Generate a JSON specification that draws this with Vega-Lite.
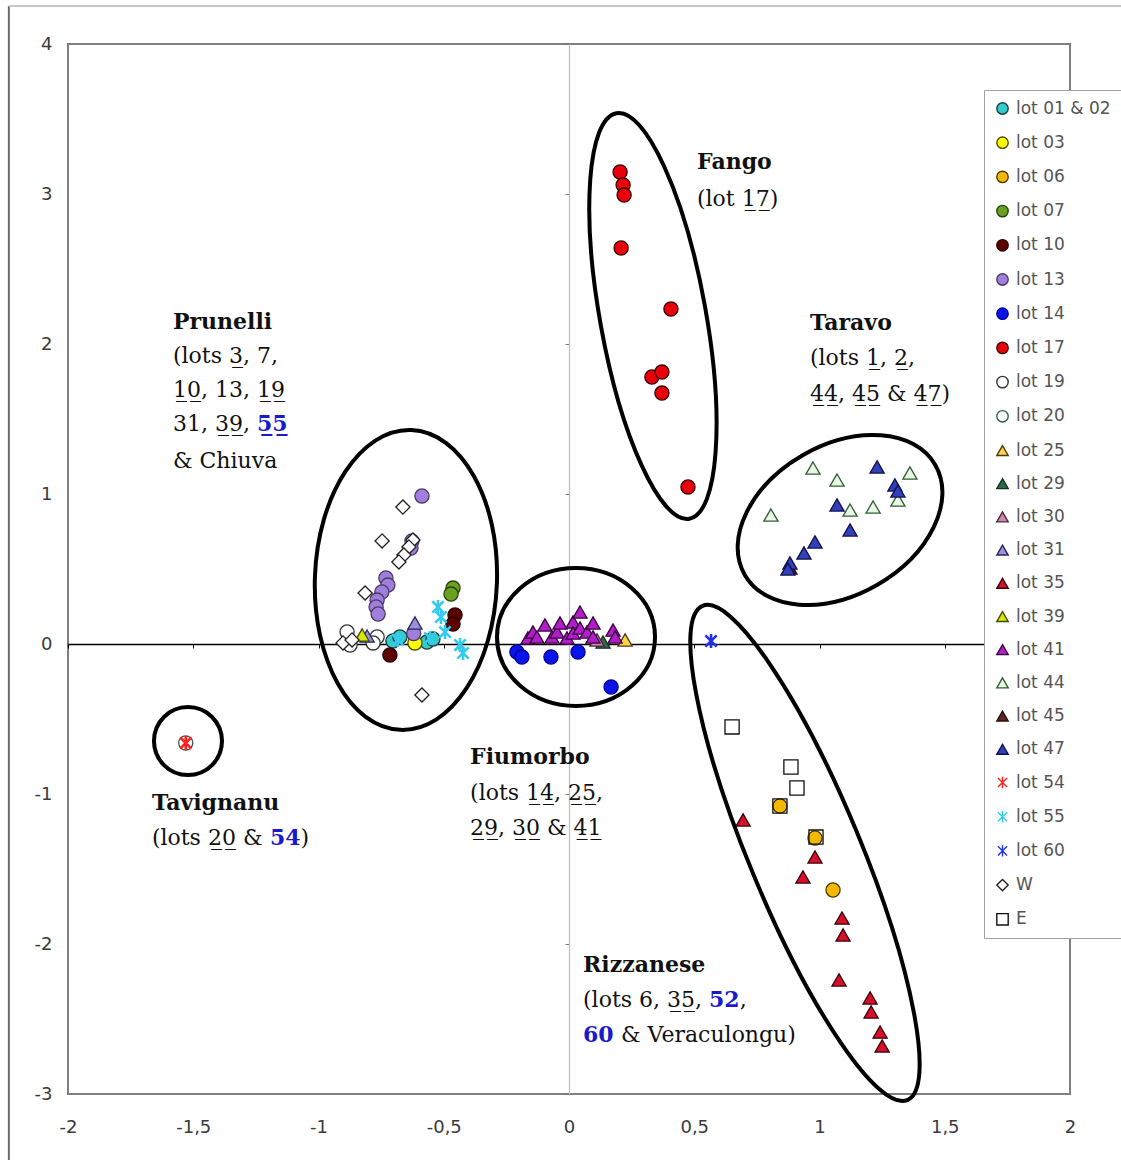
{
  "$schema": "https://vega.github.io/schema/vega-lite/v6.json",
  "width": 1002,
  "height": 1050,
  "autosize": {"type": "none"},
  "padding": {"left": 68, "top": 44, "right": 51, "bottom": 66},
  "background": "white",
  "config": {
    "view": {"stroke": "#7f7f7f", "strokeWidth": 2},
    "legend": {
      "padding": 10,
      "fillColor": "white",
      "strokeColor": "#a0a0a0",
      "labelFont": "DejaVu Sans",
      "labelFontSize": 17,
      "labelColor": "#555555",
      "symbolSize": 130,
      "symbolStrokeWidth": 1.4,
      "rowPadding": 15.2,
      "labelOffset": 5
    }
  },
  "datasets": {
    "points": [
      {"lot": "lot 01 & 02", "x": -0.703, "y": 0.02},
      {"lot": "lot 01 & 02", "x": -0.675, "y": 0.047},
      {"lot": "lot 01 & 02", "x": -0.567, "y": 0.013},
      {"lot": "lot 01 & 02", "x": -0.543, "y": 0.033},
      {"lot": "lot 03", "x": -0.615, "y": 0.007},
      {"lot": "lot 06", "x": 0.842, "y": -1.08},
      {"lot": "lot 06", "x": 0.982, "y": -1.293},
      {"lot": "lot 06", "x": 1.054, "y": -1.64},
      {"lot": "lot 07", "x": -0.463, "y": 0.373},
      {"lot": "lot 07", "x": -0.471, "y": 0.333},
      {"lot": "lot 10", "x": -0.455, "y": 0.193},
      {"lot": "lot 10", "x": -0.463, "y": 0.133},
      {"lot": "lot 10", "x": -0.715, "y": -0.073},
      {"lot": "lot 13", "x": -0.587, "y": 0.987},
      {"lot": "lot 13", "x": -0.627, "y": 0.687},
      {"lot": "lot 13", "x": -0.631, "y": 0.64},
      {"lot": "lot 13", "x": -0.731, "y": 0.44},
      {"lot": "lot 13", "x": -0.723, "y": 0.393},
      {"lot": "lot 13", "x": -0.747, "y": 0.347},
      {"lot": "lot 13", "x": -0.766, "y": 0.293},
      {"lot": "lot 13", "x": -0.77, "y": 0.247},
      {"lot": "lot 13", "x": -0.762, "y": 0.2},
      {"lot": "lot 13", "x": -0.62, "y": 0.07},
      {"lot": "lot 14", "x": -0.208, "y": -0.053},
      {"lot": "lot 14", "x": -0.188, "y": -0.087},
      {"lot": "lot 14", "x": -0.072, "y": -0.087},
      {"lot": "lot 14", "x": 0.036, "y": -0.053},
      {"lot": "lot 14", "x": 0.168, "y": -0.287},
      {"lot": "lot 17", "x": 0.204, "y": 3.147},
      {"lot": "lot 17", "x": 0.216, "y": 3.06},
      {"lot": "lot 17", "x": 0.22, "y": 2.993},
      {"lot": "lot 17", "x": 0.208, "y": 2.64},
      {"lot": "lot 17", "x": 0.407, "y": 2.233},
      {"lot": "lot 17", "x": 0.331, "y": 1.78},
      {"lot": "lot 17", "x": 0.371, "y": 1.813},
      {"lot": "lot 17", "x": 0.371, "y": 1.673},
      {"lot": "lot 17", "x": 0.475, "y": 1.047},
      {"lot": "lot 19", "x": -0.886, "y": 0.08},
      {"lot": "lot 19", "x": -0.874, "y": -0.007},
      {"lot": "lot 19", "x": -0.766, "y": 0.047},
      {"lot": "lot 19", "x": -0.782, "y": 0.007},
      {"lot": "lot 20", "x": -1.53, "y": -0.66},
      {"lot": "lot 25", "x": 0.224, "y": 0.027},
      {"lot": "lot 29", "x": 0.136, "y": 0.013},
      {"lot": "lot 30", "x": 0.112, "y": 0.027},
      {"lot": "lot 31", "x": -0.615, "y": 0.14},
      {"lot": "lot 31", "x": -0.806, "y": 0.053},
      {"lot": "lot 35", "x": 0.695, "y": -1.173},
      {"lot": "lot 35", "x": 0.982, "y": -1.42},
      {"lot": "lot 35", "x": 0.934, "y": -1.553},
      {"lot": "lot 35", "x": 1.09, "y": -1.827},
      {"lot": "lot 35", "x": 1.094, "y": -1.94},
      {"lot": "lot 35", "x": 1.078, "y": -2.24},
      {"lot": "lot 35", "x": 1.202, "y": -2.36},
      {"lot": "lot 35", "x": 1.206, "y": -2.453},
      {"lot": "lot 35", "x": 1.242, "y": -2.587},
      {"lot": "lot 35", "x": 1.25, "y": -2.68},
      {"lot": "lot 39", "x": -0.826, "y": 0.06},
      {"lot": "lot 41", "x": -0.164, "y": 0.04},
      {"lot": "lot 41", "x": -0.144, "y": 0.08},
      {"lot": "lot 41", "x": -0.128, "y": 0.047},
      {"lot": "lot 41", "x": -0.096, "y": 0.127},
      {"lot": "lot 41", "x": -0.068, "y": 0.047},
      {"lot": "lot 41", "x": -0.048, "y": 0.08},
      {"lot": "lot 41", "x": -0.036, "y": 0.14},
      {"lot": "lot 41", "x": -0.008, "y": 0.04},
      {"lot": "lot 41", "x": 0.016, "y": 0.147},
      {"lot": "lot 41", "x": 0.016, "y": 0.073},
      {"lot": "lot 41", "x": 0.044, "y": 0.213},
      {"lot": "lot 41", "x": 0.044, "y": 0.107},
      {"lot": "lot 41", "x": 0.072, "y": 0.08},
      {"lot": "lot 41", "x": 0.096, "y": 0.14},
      {"lot": "lot 41", "x": 0.096, "y": 0.047},
      {"lot": "lot 41", "x": 0.176, "y": 0.093},
      {"lot": "lot 41", "x": 0.184, "y": 0.047},
      {"lot": "lot 44", "x": 0.974, "y": 1.173},
      {"lot": "lot 44", "x": 1.07, "y": 1.093},
      {"lot": "lot 44", "x": 1.361, "y": 1.14},
      {"lot": "lot 44", "x": 0.806, "y": 0.86},
      {"lot": "lot 44", "x": 1.122, "y": 0.893},
      {"lot": "lot 44", "x": 1.214, "y": 0.913},
      {"lot": "lot 44", "x": 1.313, "y": 0.96},
      {"lot": "lot 45", "x": 0.882, "y": 0.507},
      {"lot": "lot 47", "x": 1.23, "y": 1.18},
      {"lot": "lot 47", "x": 1.301, "y": 1.06},
      {"lot": "lot 47", "x": 1.313, "y": 1.02},
      {"lot": "lot 47", "x": 1.07, "y": 0.927},
      {"lot": "lot 47", "x": 1.122, "y": 0.76},
      {"lot": "lot 47", "x": 0.982, "y": 0.68},
      {"lot": "lot 47", "x": 0.938, "y": 0.607},
      {"lot": "lot 47", "x": 0.882, "y": 0.54},
      {"lot": "lot 47", "x": 0.874, "y": 0.5},
      {"lot": "lot 54", "x": -1.53, "y": -0.66},
      {"lot": "lot 55", "x": -0.523, "y": 0.247},
      {"lot": "lot 55", "x": -0.511, "y": 0.18},
      {"lot": "lot 55", "x": -0.555, "y": 0.04},
      {"lot": "lot 55", "x": -0.683, "y": 0.027},
      {"lot": "lot 55", "x": -0.435, "y": -0.007},
      {"lot": "lot 55", "x": -0.423, "y": -0.06},
      {"lot": "lot 55", "x": -0.495, "y": 0.08},
      {"lot": "lot 60", "x": 0.567, "y": 0.02},
      {"lot": "W", "x": -0.663, "y": 0.913},
      {"lot": "W", "x": -0.746, "y": 0.687},
      {"lot": "W", "x": -0.623, "y": 0.693},
      {"lot": "W", "x": -0.639, "y": 0.647},
      {"lot": "W", "x": -0.659, "y": 0.593},
      {"lot": "W", "x": -0.679, "y": 0.547},
      {"lot": "W", "x": -0.814, "y": 0.34},
      {"lot": "W", "x": -0.902, "y": 0.007},
      {"lot": "W", "x": -0.866, "y": 0.027},
      {"lot": "W", "x": -0.587, "y": -0.34},
      {"lot": "E", "x": 0.651, "y": -0.553},
      {"lot": "E", "x": 0.886, "y": -0.82},
      {"lot": "E", "x": 0.91, "y": -0.96},
      {"lot": "E", "x": 0.842, "y": -1.08},
      {"lot": "E", "x": 0.986, "y": -1.287}
    ],
    "names": [
      {"x": -1.581, "y": 2.147, "t": "Prunelli"},
      {"x": 0.511, "y": 3.213, "t": "Fango"},
      {"x": 0.962, "y": 2.14, "t": "Taravo"},
      {"x": -0.395, "y": -0.753, "t": "Fiumorbo"},
      {"x": -1.665, "y": -1.06, "t": "Tavignanu"},
      {"x": 0.056, "y": -2.14, "t": "Rizzanese"}
    ],
    "lots": [
      {"x": -1.581, "y": 1.92, "t": "(lots 3\u0332, 7,"},
      {"x": -1.581, "y": 1.693, "t": "1\u03320\u0332, 13, 1\u03329\u0332"},
      {"x": -1.581, "y": 1.467, "t": "31, 3\u03329\u0332,"},
      {"x": -1.581, "y": 1.22, "t": "& Chiuva"},
      {"x": 0.511, "y": 2.967, "t": "(lot 1\u03327\u0332)"},
      {"x": 0.962, "y": 1.907, "t": "(lots 1\u0332, 2\u0332,"},
      {"x": 0.962, "y": 1.667, "t": "4\u03324\u0332, 4\u03325\u0332 & 4\u03327\u0332)"},
      {"x": -0.395, "y": -0.993, "t": "(lots 1\u03324\u0332, 2\u03325\u0332,"},
      {"x": -0.395, "y": -1.227, "t": "2\u03329\u0332, 3\u03320\u0332 & 4\u03321\u0332"},
      {"x": -1.665, "y": -1.293, "t": "(lots 2\u03320\u0332 &"},
      {"x": -1.072, "y": -1.293, "t": ")"},
      {"x": 0.056, "y": -2.373, "t": "(lots 6, 3\u03325\u0332,"},
      {"x": 0.682, "y": -2.373, "t": ","},
      {"x": 0.2076, "y": -2.607, "t": "& Veraculongu)"}
    ],
    "newlots": [
      {"x": -1.2455, "y": 1.467, "t": "5\u03325\u0332"},
      {"x": -1.194, "y": -1.293, "t": "54"},
      {"x": 0.559, "y": -2.373, "t": "52"},
      {"x": 0.056, "y": -2.607, "t": "60"}
    ]
  },
  "encoding": {
    "x": {
      "field": "x",
      "type": "quantitative",
      "scale": {"domain": [-2, 2], "nice": false, "zero": false},
      "axis": {
        "title": null,
        "grid": false,
        "values": [-2, -1.5, -1, -0.5, 0, 0.5, 1, 1.5, 2],
        "offset": -450,
        "domainColor": "#000000",
        "domainWidth": 1.3,
        "tickColor": "#000000",
        "tickSize": 4,
        "labelPadding": 470,
        "labelFlush": false,
        "labelOverlap": false,
        "labelBound": false,
        "labelFont": "DejaVu Sans",
        "labelFontSize": 18,
        "labelColor": "#3a3a3a",
        "labelExpr": "replace(datum.value + '', '.', ',')"
      }
    },
    "y": {
      "field": "y",
      "type": "quantitative",
      "scale": {"domain": [-3, 4], "nice": false, "zero": false},
      "axis": {
        "title": null,
        "grid": false,
        "values": [-3, -2, -1, 0, 1, 2, 3, 4],
        "offset": -501,
        "domainColor": "#bdbdbd",
        "domainWidth": 1.2,
        "tickColor": "#777777",
        "tickSize": 4,
        "labelPadding": 513,
        "labelOverlap": false,
        "labelBound": false,
        "labelFont": "DejaVu Sans",
        "labelFontSize": 18,
        "labelColor": "#3a3a3a",
        "labelExpr": "replace(datum.value + '', '.', ',')"
      }
    }
  },
  "layer": [
    {
      "data": {"values": [{"x": -2.236, "y": 4.253, "y2": -3.46}]},
      "mark": {"type": "rule", "color": "#6a6a6a", "strokeWidth": 2, "clip": false},
      "encoding": {"y2": {"field": "y2"}}
    },
    {
      "data": {"values": [{"x": -2.236, "y": 4.253, "x2": 2.21}]},
      "mark": {"type": "rule", "color": "#c8c8c8", "strokeWidth": 2, "clip": false},
      "encoding": {"x2": {"field": "x2"}}
    },
    {
      "data": {"name": "points"},
      "mark": {"type": "point", "filled": true, "opacity": 1, "size": 200},
      "encoding": {
        "shape": {
          "field": "lot",
          "type": "nominal",
          "scale": {
            "domain": ["lot 01 & 02", "lot 03", "lot 06", "lot 07", "lot 10", "lot 13", "lot 14", "lot 17", "lot 19", "lot 20", "lot 25", "lot 29", "lot 30", "lot 31", "lot 35", "lot 39", "lot 41", "lot 44", "lot 45", "lot 47", "lot 54", "lot 55", "lot 60", "W", "E"],
            "range": ["circle", "circle", "circle", "circle", "circle", "circle", "circle", "circle", "circle", "circle", "triangle-up", "triangle-up", "triangle-up", "triangle-up", "triangle-up", "triangle-up", "triangle-up", "triangle-up", "triangle-up", "triangle-up", "M -0.8 -0.8 L 0.8 0.8 M -0.8 0.8 L 0.8 -0.8 M 0 -1 L 0 1", "M -0.8 -0.8 L 0.8 0.8 M -0.8 0.8 L 0.8 -0.8 M 0 -1 L 0 1", "M -0.8 -0.8 L 0.8 0.8 M -0.8 0.8 L 0.8 -0.8 M 0 -1 L 0 1", "diamond", "square"]
          },
          "legend": {"title": null, "orient": "none", "legendX": 916, "legendY": 46}
        },
        "fill": {
          "field": "lot",
          "type": "nominal",
          "scale": {
            "domain": ["lot 01 & 02", "lot 03", "lot 06", "lot 07", "lot 10", "lot 13", "lot 14", "lot 17", "lot 19", "lot 20", "lot 25", "lot 29", "lot 30", "lot 31", "lot 35", "lot 39", "lot 41", "lot 44", "lot 45", "lot 47", "lot 54", "lot 55", "lot 60", "W", "E"],
            "range": ["#33cccc", "#ffff00", "#f5b800", "#6aa121", "#5c0000", "#a07fdc", "#0a14e6", "#e8000b", "#ffffff", "#ffffff", "#ffd24d", "#2d6a45", "#d088b0", "#9b8fe0", "#d4102a", "#d8e600", "#b01ec8", "#eaf7e6", "#5a2a20", "#3140b8", "#ff2020", "#33ccee", "#2030e8", "#ffffff", "transparent"]
          },
          "legend": {"title": null, "orient": "none", "legendX": 916, "legendY": 46}
        },
        "stroke": {
          "field": "lot",
          "type": "nominal",
          "scale": {
            "domain": ["lot 01 & 02", "lot 03", "lot 06", "lot 07", "lot 10", "lot 13", "lot 14", "lot 17", "lot 19", "lot 20", "lot 25", "lot 29", "lot 30", "lot 31", "lot 35", "lot 39", "lot 41", "lot 44", "lot 45", "lot 47", "lot 54", "lot 55", "lot 60", "W", "E"],
            "range": ["#1f3a3a", "#4a4a00", "#4a3a00", "#2a4010", "#2a0000", "#4a3a66", "#0000a0", "#3a0000", "#333333", "#2f5f4f", "#4a3a10", "#143020", "#4a2a3a", "#2a2a5a", "#3a0008", "#3a5000", "#3a003f", "#2f5f2f", "#2a100a", "#101050", "#ff2020", "#33ccee", "#2030e8", "#222222", "#111111"]
          },
          "legend": {"title": null, "orient": "none", "legendX": 916, "legendY": 46}
        },
        "strokeWidth": {
          "condition": {"test": "indexof(['lot 54', 'lot 55', 'lot 60'], datum.lot) >= 0", "value": 2.6},
          "value": 1.3
        }
      }
    },
    {
      "data": {"values": [{"x": -1.521, "y": -0.647}]},
      "mark": {"type": "point", "shape": "circle", "size": 4624, "filled": false, "opacity": 1, "stroke": "#000000", "strokeWidth": 4}
    },
    {
      "data": {"values": [{"x": -0.651, "y": 0.427}]},
      "mark": {"type": "point", "shape": "M 1 0 C 1 0.3352 0.5523 0.607 0 0.607 C -0.5523 0.607 -1 0.3352 -1 0 C -1 -0.3352 -0.5523 -0.607 0 -0.607 C 0.5523 -0.607 1 -0.3352 1 0 Z", "size": 90000, "angle": 92, "filled": false, "opacity": 1, "stroke": "#000000", "strokeWidth": 4}
    },
    {
      "data": {"values": [{"x": 0.028, "y": 0.047}]},
      "mark": {"type": "point", "shape": "M 1 0 C 1 0.4822 0.5523 0.873 0 0.873 C -0.5523 0.873 -1 0.4822 -1 0 C -1 -0.4822 -0.5523 -0.873 0 -0.873 C 0.5523 -0.873 1 -0.4822 1 0 Z", "size": 24964, "angle": 0, "filled": false, "opacity": 1, "stroke": "#000000", "strokeWidth": 4}
    },
    {
      "data": {"values": [{"x": 0.335, "y": 2.187}]},
      "mark": {"type": "point", "shape": "M 1 0 C 1 0.1419 0.5523 0.257 0 0.257 C -0.5523 0.257 -1 0.1419 -1 0 C -1 -0.1419 -0.5523 -0.257 0 -0.257 C 0.5523 -0.257 1 -0.1419 1 0 Z", "size": 169744, "angle": 79.8, "filled": false, "opacity": 1, "stroke": "#000000", "strokeWidth": 4}
    },
    {
      "data": {"values": [{"x": 1.082, "y": 0.827}]},
      "mark": {"type": "point", "shape": "M 1 0 C 1 0.3756 0.5523 0.68 0 0.68 C -0.5523 0.68 -1 0.3756 -1 0 C -1 -0.3756 -0.5523 -0.68 0 -0.68 C 0.5523 -0.68 1 -0.3756 1 0 Z", "size": 48400, "angle": 330, "filled": false, "opacity": 1, "stroke": "#000000", "strokeWidth": 4}
    },
    {
      "data": {"values": [{"x": 0.942, "y": -1.393}]},
      "mark": {"type": "point", "shape": "M 1 0 C 1 0.1154 0.5523 0.209 0 0.209 C -0.5523 0.209 -1 0.1154 -1 0 C -1 -0.1154 -0.5523 -0.209 0 -0.209 C 0.5523 -0.209 1 -0.1154 1 0 Z", "size": 286225, "angle": 67.5, "filled": false, "opacity": 1, "stroke": "#000000", "strokeWidth": 4}
    },
    {
      "data": {"name": "names"},
      "mark": {"type": "text", "font": "DejaVu Serif", "fontSize": 22, "fontWeight": "bold", "align": "left", "baseline": "middle", "color": "#111111"},
      "encoding": {"text": {"field": "t"}}
    },
    {
      "data": {"name": "lots"},
      "mark": {"type": "text", "font": "DejaVu Serif", "fontSize": 22, "align": "left", "baseline": "middle", "color": "#111111"},
      "encoding": {"text": {"field": "t"}}
    },
    {
      "data": {"name": "newlots"},
      "mark": {"type": "text", "font": "DejaVu Serif", "fontSize": 22, "fontWeight": "bold", "align": "left", "baseline": "middle", "color": "#1a1acc"},
      "encoding": {"text": {"field": "t"}}
    }
  ]
}
